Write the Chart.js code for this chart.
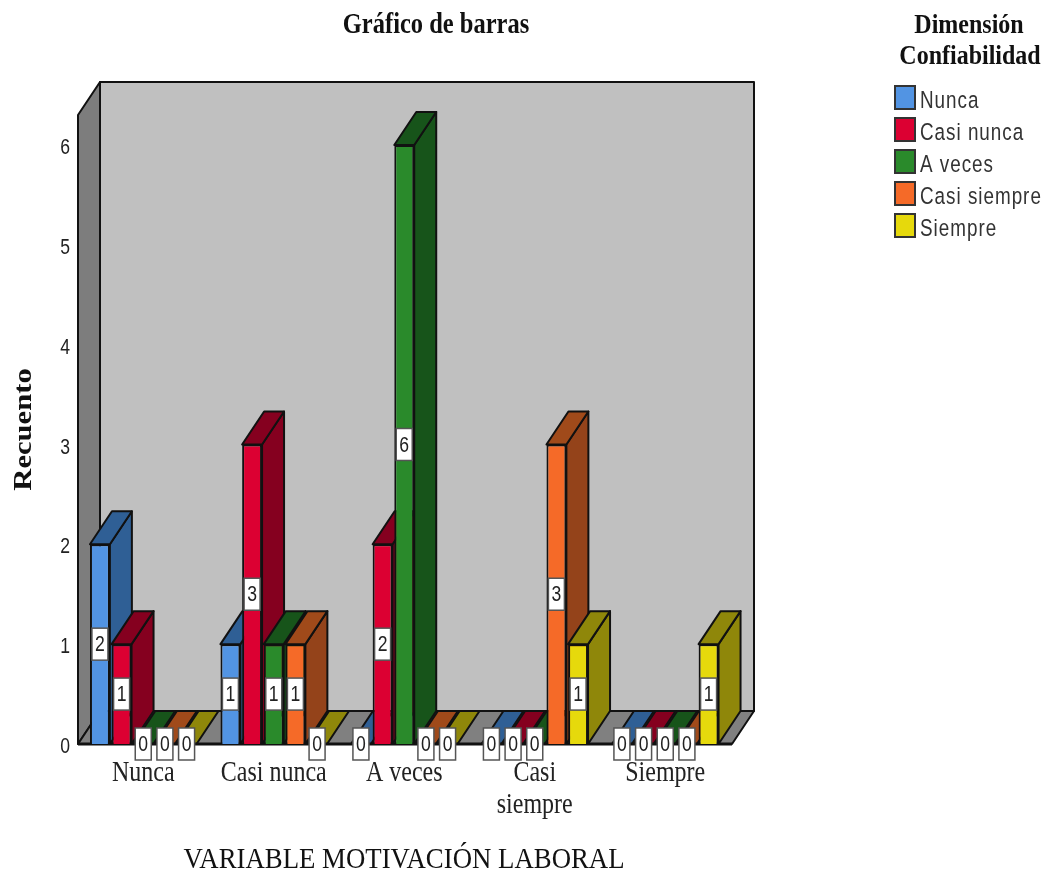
<!DOCTYPE html>
<html>
<head>
<meta charset="utf-8">
<title>Gráfico de barras</title>
<script src="https://cdn.jsdelivr.net/npm/chart.js@4"></script>
<style>
  html, body { margin: 0; padding: 0; background: #fff; }
  canvas { display: block; }
</style>
</head>
<body>
<canvas id="barChart" width="1044" height="872"></canvas>
<script>
const categories = ['Nunca', 'Casi nunca', 'A veces', ['Casi', 'siempre'], 'Siempre'];
const seriesNames = ['Nunca', 'Casi nunca', 'A veces', 'Casi siempre', 'Siempre'];

const nuncaValues = [2, 1, 0, 0, 0];
const casiNuncaValues = [1, 3, 2, 0, 0];
const aVecesValues = [0, 1, 6, 0, 0];
const casiSiempreValues = [0, 1, 0, 3, 0];
const siempreValues = [0, 0, 0, 1, 1];
const seriesValues = [nuncaValues, casiNuncaValues, aVecesValues, casiSiempreValues, siempreValues];

// front, right side and top face colours per series
const frontColors = ['#5294e3', '#dc0032', '#2a8a2b', '#f56a28', '#e6d90c'];
const sideColors = ['#2f5f95', '#85001f', '#17541a', '#94431a', '#8f870a'];
const topColors = ['#2f5f95', '#85001f', '#17541a', '#a04a1a', '#8f870a'];

const SERIF = '"Liberation Serif", serif';
const SANS = '"Liberation Sans", sans-serif';

// how far the box recedes up and to the right
const depthX = 22;
const depthY = 33;
// floor and back wall run a little past the last category
const overhang = 1.5;

function facePath(ctx, pts, fill) {
  ctx.beginPath();
  ctx.moveTo(pts[0][0], pts[0][1]);
  for (let i = 1; i < pts.length; i++) ctx.lineTo(pts[i][0], pts[i][1]);
  ctx.closePath();
  ctx.fillStyle = fill;
  ctx.fill();
  ctx.stroke();
}

// the lettering on this chart is tall and narrow, so text goes through a scale
function drawText(ctx, text, x, y, sx, sy, angle) {
  ctx.save();
  ctx.translate(x, y);
  if (angle) ctx.rotate(angle);
  ctx.scale(sx, sy);
  ctx.fillText(text, 0, 0);
  ctx.restore();
}

const boxPlugin = {
  id: 'box3d',
  // Walls, floor, axis text, then the side and top of each bar, left to right.
  // The flat fronts are the normal Chart.js bars drawn straight after this.
  beforeDatasetsDraw(chart) {
    const ctx = chart.ctx;
    const a = chart.chartArea;
    const right = a.right + overhang;
    const xScale = chart.scales.x;
    const yScale = chart.scales.y;
    ctx.save();
    ctx.strokeStyle = '#111';
    ctx.lineWidth = 2;
    ctx.lineJoin = 'round';

    facePath(ctx, [[a.left + depthX, a.top - depthY], [right + depthX, a.top - depthY],
      [right + depthX, a.bottom - depthY], [a.left + depthX, a.bottom - depthY]], '#c0c0c0');
    facePath(ctx, [[a.left, a.top], [a.left + depthX, a.top - depthY],
      [a.left + depthX, a.bottom - depthY], [a.left, a.bottom]], '#7d7d7d');
    facePath(ctx, [[a.left, a.bottom], [a.left + depthX, a.bottom - depthY],
      [right + depthX, a.bottom - depthY], [right, a.bottom]], '#808080');

    ctx.textBaseline = 'middle';
    ctx.fillStyle = '#222';
    ctx.textAlign = 'right';
    ctx.font = '22px ' + SANS;
    yScale.ticks.forEach(tick => {
      drawText(ctx, String(tick.value), 70, yScale.getPixelForValue(tick.value) + 3, 0.8, 1);
    });

    ctx.textAlign = 'center';
    ctx.font = '24px ' + SERIF;
    categories.forEach((label, j) => {
      [].concat(label).forEach((line, n) => {
        drawText(ctx, line, xScale.getPixelForTick(j), 773 + n * 32, 1, 1.22);
      });
    });

    ctx.fillStyle = '#111';
    ctx.font = '26.8px ' + SERIF;
    drawText(ctx, 'VARIABLE MOTIVACIÓN LABORAL', 404, 860, 1, 1.12);
    ctx.font = 'bold 25.5px ' + SERIF;
    drawText(ctx, 'Recuento', 24, (a.top + a.bottom) / 2, 1.2, 1, -Math.PI / 2);

    categories.forEach((c, j) => {
      seriesValues.forEach((v, i) => {
        const bar = chart.getDatasetMeta(i).data[j];
        const l = bar.x - bar.width / 2;
        const r = bar.x + bar.width / 2;
        const t = bar.y;
        const b = bar.base;
        if (b > t) {
          facePath(ctx, [[r, t], [r + depthX, t - depthY], [r + depthX, b - depthY], [r, b]], sideColors[i]);
        }
        facePath(ctx, [[l, t], [l + depthX, t - depthY], [r + depthX, t - depthY], [r, t]], topColors[i]);
      });
    });

    // heavier front edge of the floor
    ctx.lineWidth = 3;
    ctx.beginPath();
    ctx.moveTo(a.left, a.bottom);
    ctx.lineTo(right, a.bottom);
    ctx.stroke();
    ctx.restore();
  },
  // value boxes sit over everything, halfway up each bar
  afterDatasetsDraw(chart) {
    const ctx = chart.ctx;
    ctx.save();
    ctx.font = '22px ' + SANS;
    ctx.textAlign = 'center';
    ctx.textBaseline = 'middle';
    seriesValues.forEach((values, i) => {
      chart.getDatasetMeta(i).data.forEach((bar, j) => {
        const cy = (bar.y + bar.base) / 2;
        ctx.fillStyle = '#fff';
        ctx.strokeStyle = '#555';
        ctx.lineWidth = 1.5;
        ctx.fillRect(bar.x - 8, cy - 16, 16, 32);
        ctx.strokeRect(bar.x - 8, cy - 16, 16, 32);
        ctx.fillStyle = '#222';
        drawText(ctx, String(values[j]), bar.x, cy + 1, 0.8, 1);
      });
    });
    ctx.restore();
  },
  // chart title and the legend block on the right
  afterDraw(chart) {
    const ctx = chart.ctx;
    ctx.save();
    ctx.fillStyle = '#111';
    ctx.textAlign = 'center';
    ctx.textBaseline = 'middle';
    ctx.font = 'bold 24.5px ' + SERIF;
    drawText(ctx, 'Gráfico de barras', 436, 26, 1, 1.18);
    ctx.font = 'bold 24px ' + SERIF;
    drawText(ctx, 'Dimensión', 969, 26, 1, 1.18);
    drawText(ctx, 'Confiabilidad', 970, 57, 1, 1.18);

    ctx.textAlign = 'left';
    ctx.font = '23px ' + SANS;
    ctx.letterSpacing = '1.2px';
    seriesNames.forEach((name, i) => {
      const y = 86 + i * 32;
      ctx.fillStyle = frontColors[i];
      ctx.strokeStyle = '#333';
      ctx.lineWidth = 2;
      ctx.fillRect(895, y, 20, 23);
      ctx.strokeRect(895, y, 20, 23);
      ctx.fillStyle = '#333';
      drawText(ctx, name, 920, y + 15.5, 0.82, 1.03);
    });
    ctx.restore();
  }
};

new Chart(document.getElementById('barChart'), {
  type: 'bar',
  data: {
    labels: categories,
    datasets: seriesNames.map((name, i) => ({
      label: name,
      data: seriesValues[i],
      backgroundColor: frontColors[i],
      borderColor: '#111',
      borderWidth: 2,
      categoryPercentage: 0.83,
      barPercentage: 0.92
    }))
  },
  options: {
    responsive: false,
    animation: false,
    layout: { padding: { left: 0, right: 313.5, top: 115, bottom: 0 } },
    plugins: { legend: { display: false }, tooltip: { enabled: false } },
    scales: {
      x: {
        afterFit(scale) { scale.height = 128; },
        grid: { display: false, drawTicks: false },
        border: { display: false },
        ticks: { display: false }
      },
      y: {
        min: 0,
        max: 6.3,
        afterFit(scale) { scale.width = 78; },
        grid: { display: false, drawTicks: false },
        border: { display: false },
        ticks: { display: false, stepSize: 1, includeBounds: false }
      }
    }
  },
  plugins: [boxPlugin]
});
</script>
</body>
</html>
